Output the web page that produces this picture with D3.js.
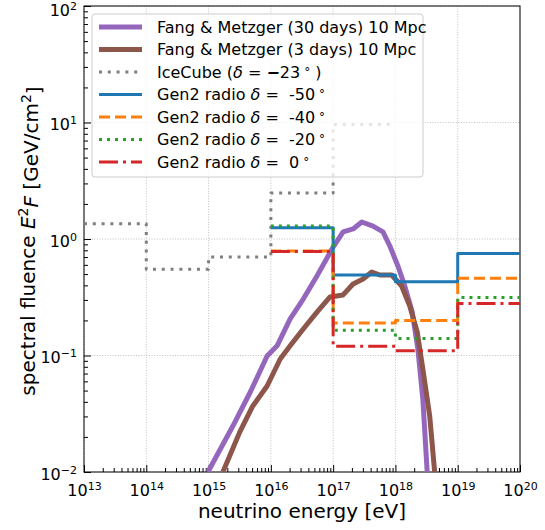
<!DOCTYPE html>
<html>
<head>
<meta charset="utf-8">
<script src="https://cdn.jsdelivr.net/npm/d3@7/dist/d3.min.js"></script>
<style>
  body { margin: 0; background: #fff; }
  svg { font-family: "DejaVu Sans", sans-serif; }
</style>
</head>
<body>
<svg id="chart" width="545" height="530"></svg>
<script>
// ---------------- data ----------------
const xTickExponents = [13, 14, 15, 16, 17, 18, 19, 20];
const yTickExponents = [-2, -1, 0, 1, 2];

// Fang & Metzger (30 days) 10 Mpc : [log10 E/eV, E^2 F]
const fang30E = [14.99, 15.39, 15.67, 15.94, 16.10, 16.31, 16.52, 16.74, 17.00, 17.16, 17.32, 17.46, 17.64, 17.80, 17.91, 18.04, 18.15, 18.27, 18.36, 18.44, 18.51];
const fang30F = [0.0100, 0.0248, 0.0486, 0.099, 0.121, 0.206, 0.305, 0.481, 0.853, 1.15, 1.22, 1.40, 1.29, 1.15, 0.871, 0.586, 0.395, 0.236, 0.114, 0.0423, 0.0100];

// Fang & Metzger (3 days) 10 Mpc
const fang3E = [15.23, 15.50, 15.71, 15.94, 16.15, 16.31, 16.52, 16.74, 16.95, 17.16, 17.32, 17.48, 17.62, 17.75, 17.94, 18.10, 18.23, 18.35, 18.44, 18.55, 18.63];
const fang3F = [0.0100, 0.0220, 0.0369, 0.0547, 0.0933, 0.121, 0.169, 0.236, 0.318, 0.331, 0.411, 0.454, 0.521, 0.491, 0.491, 0.395, 0.266, 0.159, 0.0766, 0.0303, 0.0100];

// IceCube (delta = -23 deg) step limits, bin edges in eV
const iceCubeEdges = [1e13, 1e14, 1e15, 1e16, 1e17, 1e18];
const iceCubeF = [1.35, 0.55, 0.70, 2.48, 9.6];

// Gen2 radio step limits
const gen2Edges = [1e16, 1e17, 1e18, 1e19, 1e20];
const gen2m50 = [1.25, 0.49, 0.43, 0.75];
const gen2m40 = [0.79, 0.19, 0.20, 0.46];
const gen2m20 = [1.29, 0.165, 0.14, 0.315];
const gen2z0  = [0.78, 0.12, 0.11, 0.28];

// ---------------- layout ----------------
const svg = d3.select("#chart");
const L = 84, R = 520, T = 6, B = 472;
const x = d3.scaleLog().domain([1e13, 1e20]).range([L, R]);
const y = d3.scaleLog().domain([1e-2, 1e2]).range([B, T]);

svg.append("defs").append("clipPath").attr("id", "clip")
  .append("rect").attr("x", L).attr("y", T).attr("width", R - L).attr("height", B - T);

// grid
const grid = svg.append("g");
xTickExponents.forEach(e => {
  grid.append("line").attr("x1", x(Math.pow(10, e))).attr("x2", x(Math.pow(10, e)))
    .attr("y1", T).attr("y2", B).attr("stroke", "#b0b0b0").attr("stroke-width", 0.8)
    .attr("stroke-dasharray", "1,1.6");
});
yTickExponents.forEach(e => {
  grid.append("line").attr("y1", y(Math.pow(10, e))).attr("y2", y(Math.pow(10, e)))
    .attr("x1", L).attr("x2", R).attr("stroke", "#b0b0b0").attr("stroke-width", 0.8)
    .attr("stroke-dasharray", "1,1.6");
});

// minor tick values
const xMinor = [], yMinor = [];
for (let e = 13; e < 20; e++) for (let m = 2; m <= 9; m++) xMinor.push(m * Math.pow(10, e));
for (let e = -2; e < 2; e++) for (let m = 2; m <= 9; m++) yMinor.push(m * Math.pow(10, e));

function supLabel(sel, exps) {
  sel.selectAll(".tick text").each(function(d, i) {
    const t = d3.select(this);
    t.text(null);
    t.append("tspan").text("10");
    t.append("tspan").attr("dy", "-0.55em").attr("font-size", 11).text(String(exps[i]).replace("-", "\u2212"));
  });
}

// x axis
const xMajor = svg.append("g").attr("transform", `translate(0,${B})`)
  .call(d3.axisBottom(x).tickValues(xTickExponents.map(e => Math.pow(10, e))).tickSizeInner(-7).tickSizeOuter(0).tickPadding(9).tickFormat(() => ""));
xMajor.selectAll(".tick text").attr("font-size", 16).attr("fill", "#000").attr("font-family", "DejaVu Sans").attr("dy", "0.95em");
supLabel(xMajor, xTickExponents);
xMajor.select(".domain").remove();
svg.append("g").attr("transform", `translate(0,${B})`)
  .call(d3.axisBottom(x).tickValues(xMinor).tickSizeInner(-4).tickSizeOuter(0).tickFormat(""))
  .select(".domain").remove();

// y axis
const yMajor = svg.append("g").attr("transform", `translate(${L},0)`)
  .call(d3.axisLeft(y).tickValues(yTickExponents.map(e => Math.pow(10, e))).tickSizeInner(-7).tickSizeOuter(0).tickPadding(7).tickFormat(() => ""));
yMajor.selectAll(".tick text").attr("font-size", 16).attr("fill", "#000").attr("font-family", "DejaVu Sans")
  .attr("dy", d => (y(d) - T < 10 ? "0.62em" : "0.45em"));
supLabel(yMajor, yTickExponents);
yMajor.select(".domain").remove();
svg.append("g").attr("transform", `translate(${L},0)`)
  .call(d3.axisLeft(y).tickValues(yMinor).tickSizeInner(-4).tickSizeOuter(0).tickFormat(""))
  .select(".domain").remove();

// frame
svg.append("rect").attr("x", L).attr("y", T).attr("width", R - L).attr("height", B - T)
  .attr("fill", "none").attr("stroke", "#000").attr("stroke-width", 1);

// ---------------- series ----------------
const plot = svg.append("g").attr("clip-path", "url(#clip)");
const curve = d3.line().x(d => x(Math.pow(10, d[0]))).y(d => y(d[1]));

function stepPoints(edges, vals) {
  const pts = [];
  vals.forEach((v, i) => { pts.push([edges[i], v]); pts.push([edges[i + 1], v]); });
  return pts;
}
const stepLine = d3.line().x(d => x(d[0])).y(d => y(d[1]));

const series = [
  { type: "curve", E: fang30E, F: fang30F, color: "#9467bd", width: 5, dash: null },
  { type: "curve", E: fang3E, F: fang3F, color: "#8c564b", width: 5, dash: null },
  { type: "step", edges: iceCubeEdges, F: iceCubeF, color: "#7f7f7f", width: 3, dash: "3,5.8" },
  { type: "step", edges: gen2Edges, F: gen2m50, color: "#1f77b4", width: 3, dash: null },
  { type: "step", edges: gen2Edges, F: gen2m40, color: "#ff7f0e", width: 3, dash: "11,5" },
  { type: "step", edges: gen2Edges, F: gen2m20, color: "#2ca02c", width: 3, dash: "3,5" },
  { type: "step", edges: gen2Edges, F: gen2z0, color: "#d62728", width: 3, dash: "19,5,3,5" }
];

series.forEach(s => {
  let d;
  if (s.type === "curve") d = curve(s.E.map((e, i) => [e, s.F[i]]));
  else d = stepLine(stepPoints(s.edges, s.F));
  const p = plot.append("path").attr("d", d).attr("fill", "none")
    .attr("stroke", s.color).attr("stroke-width", s.width).attr("stroke-linejoin", "round");
  if (s.dash) p.attr("stroke-dasharray", s.dash);
});

// ---------------- legend ----------------
const leg = svg.append("g");
leg.append("rect").attr("x", 92).attr("y", 14).attr("width", 331).attr("height", 163)
  .attr("rx", 3).attr("fill", "#fff").attr("fill-opacity", 0.8)
  .attr("stroke", "#cccccc").attr("stroke-width", 1);

const NB = "\u00a0";
const rowY0 = 27, rowDY = 22.5;
const legTexts = [
  [["Fang & Metzger (30 days) 10 Mpc", null]],
  [["Fang & Metzger (3 days) 10 Mpc", null]],
  [["IceCube (", null], ["\u03b4", "italic"], [NB + "=" + NB, null], ["\u2212", "bold"], ["23", null], ["\u00b0", "deg"], [NB + ")", "back"]],
  [["Gen2 radio ", null], ["\u03b4", "italic"], [NB + "=" + NB + NB + "-50", null], ["\u00b0", "deg"]],
  [["Gen2 radio ", null], ["\u03b4", "italic"], [NB + "=" + NB + NB + "-40", null], ["\u00b0", "deg"]],
  [["Gen2 radio ", null], ["\u03b4", "italic"], [NB + "=" + NB + NB + "-20", null], ["\u00b0", "deg"]],
  [["Gen2 radio ", null], ["\u03b4", "italic"], [NB + "=" + NB + NB + "0", null], ["\u00b0", "deg"]]
];
series.forEach((s, i) => {
  const yy = rowY0 + i * rowDY;
  const ln = leg.append("line").attr("x1", 99).attr("x2", 142).attr("y1", yy).attr("y2", yy)
    .attr("stroke", s.color).attr("stroke-width", s.width);
  if (s.dash) ln.attr("stroke-dasharray", s.dash);
  const t = leg.append("text").attr("x", 157).attr("y", yy).attr("dy", "0.36em")
    .attr("font-size", 16).attr("fill", "#000");
  legTexts[i].forEach(([str, style]) => {
    const ts = t.append("tspan").text(str);
    if (style === "italic") ts.attr("font-style", "italic");
    if (style === "bold") ts.attr("font-weight", "bold");
    if (style === "deg") ts.attr("dx", 4).attr("dy", -2).attr("font-size", 12);
    if (style === "back") ts.attr("dy", 2);
  });
});

// ---------------- axis labels ----------------
svg.append("text").attr("x", (L + R) / 2).attr("y", 518).attr("text-anchor", "middle")
  .attr("font-size", 20).attr("fill", "#000").text("neutrino energy [eV]");

const yl = svg.append("text").attr("transform", `translate(35,${(T + B) / 2 + 2}) rotate(-90)`)
  .attr("text-anchor", "middle").attr("font-size", 20).attr("fill", "#000");
yl.append("tspan").text("spectral fluence ");
yl.append("tspan").attr("font-style", "italic").text("E");
yl.append("tspan").attr("dy", "-0.5em").attr("font-size", 14).text("2");
yl.append("tspan").attr("dy", "0.5em").attr("font-style", "italic").text("F");
yl.append("tspan").text(" [GeV/cm");
yl.append("tspan").attr("dy", "-0.5em").attr("font-size", 14).text("2");
yl.append("tspan").attr("dy", "0.5em").text("]");
</script>
</body>
</html>
